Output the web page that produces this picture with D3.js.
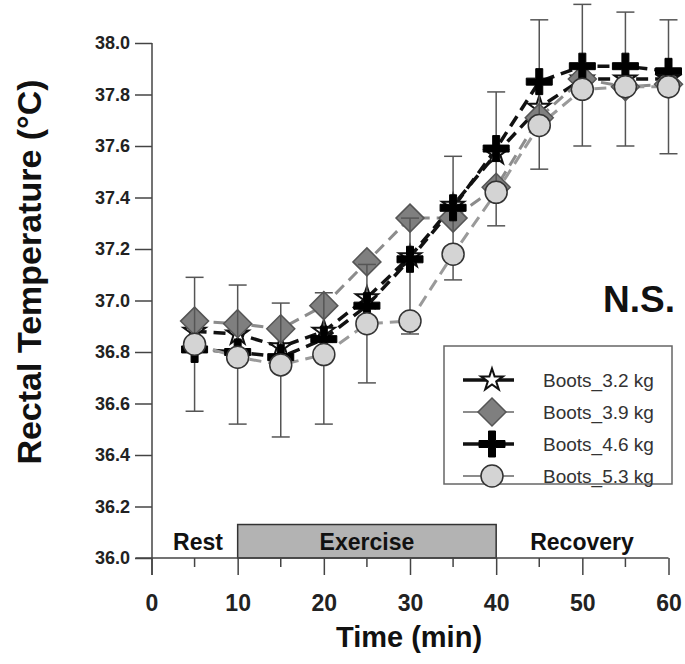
<!DOCTYPE html>
<html>
<head>
<meta charset="utf-8">
<script src="https://cdn.jsdelivr.net/npm/d3@7"></script>
<style>
body{margin:0;background:#fff;}
svg{display:block;font-family:"Liberation Sans",Arial,sans-serif;}
</style>
</head>
<body>
<svg id="chart" width="685" height="664"></svg>
<script>
const times = [5,10,15,20,25,30,35,40,45,50,55,60];
const boots32 = [36.88,36.87,36.82,36.88,37.01,37.17,37.37,37.57,37.75,37.86,37.86,37.86];
const boots39 = [36.92,36.91,36.89,36.98,37.15,37.32,37.32,37.44,37.71,37.86,37.83,37.84];
const boots46 = [36.81,36.80,36.78,36.85,36.98,37.16,37.36,37.59,37.85,37.91,37.91,37.89];
const boots53 = [36.83,36.78,36.75,36.79,36.91,36.92,37.18,37.42,37.68,37.82,37.83,37.83];
const errTop = [37.09,37.06,36.99,37.03,37.14,37.32,37.56,37.81,38.09,38.15,38.12,38.09];
const errBottom = [36.57,36.52,36.47,36.52,36.68,36.87,37.08,37.29,37.51,37.60,37.60,37.57];
const xTicks = [0,10,20,30,40,50,60];
const xMinorTicks = [5,15,25,35,45,55];
const yTicks = [36.0,36.2,36.4,36.6,36.8,37.0,37.2,37.4,37.6,37.8,38.0];
const seriesNames = ["Boots_3.2 kg","Boots_3.9 kg","Boots_4.6 kg","Boots_5.3 kg"];
const phases = [{label:"Rest",start:0,end:10,box:false},{label:"Exercise",start:10,end:40,box:true},{label:"Recovery",start:40,end:60,box:false}];
const phaseTop = 36.13;

const svg = d3.select("#chart");
const x = d3.scaleLinear().domain([0,60]).range([151.5,668.5]);
const y = d3.scaleLinear().domain([36,38]).range([558,43]);

// Phase box
phases.forEach(p => {
  if (p.box) {
    svg.append("rect").attr("x", x(p.start)).attr("y", y(phaseTop))
      .attr("width", x(p.end)-x(p.start)).attr("height", y(36)-y(phaseTop))
      .attr("fill","#b3b3b3").attr("stroke","#333").attr("stroke-width",1.5);
  }
});
phases.forEach(p => {
  let cx = (x(p.start)+x(p.end))/2;
  if (p.label==="Rest") cx = 198;
  if (p.label==="Recovery") cx = 582;
  svg.append("text").attr("x",cx).attr("y",550).attr("text-anchor","middle")
    .attr("font-size",23).attr("font-weight","bold").attr("fill","#111").text(p.label);
});

// Y axis
const yAxis = d3.axisLeft(y).tickValues(yTicks).tickFormat(d3.format(".1f")).tickSize(17).tickPadding(5);
const gy = svg.append("g").attr("transform","translate(152,0)").call(yAxis);
gy.select(".domain").attr("d","M0,43V575").attr("stroke","#444").attr("stroke-width",1.5);
gy.selectAll(".tick line").attr("stroke","#444").attr("stroke-width",1.5);
gy.selectAll(".tick text").attr("font-size",18).attr("font-weight","bold").attr("fill","#222")
  .attr("font-family","'Liberation Sans',Arial,sans-serif");

// X axis
const xAxis = d3.axisBottom(x).tickValues(xTicks).tickSize(17).tickPadding(20);
const gx = svg.append("g").attr("transform","translate(0,558)").call(xAxis);
gx.select(".domain").attr("d",`M${x(0)-16},0H${x(60)}`).attr("stroke","#444").attr("stroke-width",1.5);
gx.selectAll(".tick line").attr("stroke","#444").attr("stroke-width",1.5);
gx.selectAll(".tick text").attr("font-size",23).attr("font-weight","bold").attr("fill","#222")
  .attr("font-family","'Liberation Sans',Arial,sans-serif");
gx.selectAll(".minor").data(xMinorTicks).enter().append("line")
  .attr("x1",d=>x(d)).attr("x2",d=>x(d)).attr("y1",0).attr("y2",9)
  .attr("stroke","#444").attr("stroke-width",1.5);

// Axis titles
svg.append("text").attr("transform","translate(41,272) rotate(-90)").attr("text-anchor","middle")
  .attr("font-size",34).attr("font-weight","bold").attr("fill","#111").text("Rectal Temperature (°C)");
svg.append("text").attr("x",409).attr("y",647).attr("text-anchor","middle")
  .attr("font-size",29).attr("font-weight","bold").attr("fill","#111").text("Time (min)");

// N.S.
svg.append("text").attr("x",639).attr("y",312).attr("text-anchor","middle")
  .attr("font-size",37).attr("font-weight","bold").attr("fill","#111").text("N.S.");

// Lines
const line = d3.line().x((d,i)=>x(times[i])).y(d=>y(d));
const lineStyles = [
  {data:boots32, stroke:"#111", w:3.5, dash:"12,7"},
  {data:boots39, stroke:"#8c8c8c", w:3, dash:"12,7"},
  {data:boots46, stroke:"#111", w:3.5, dash:"12,7"},
  {data:boots53, stroke:"#9a9a9a", w:3, dash:"12,7"}
];
lineStyles.forEach(s => {
  svg.append("path").attr("d",line(s.data)).attr("fill","none").attr("stroke",s.stroke)
    .attr("stroke-width",s.w).attr("stroke-dasharray",s.dash);
});

// Marker generators
const starPath = d3.symbol().type(d3.symbolStar).size(150)();
const diamondPath = "M0,-14L14,0L0,14L-14,0Z";
const plusPath = "M-3.5,-13H3.5V-3.5H13V3.5H3.5V13H-3.5V3.5H-13V-3.5H-3.5Z";
function drawStar(g){ g.append("path").attr("d",starPath).attr("fill","#fff").attr("stroke","#111").attr("stroke-width",2); }
function drawDiamond(g){ g.append("path").attr("d",diamondPath).attr("fill","#7f7f7f").attr("stroke","#555").attr("stroke-width",1.5); }
function drawPlus(g){ g.append("path").attr("d",plusPath).attr("fill","#000").attr("stroke","#000").attr("stroke-width",1); }
function drawCircle(g){ g.append("circle").attr("r",11).attr("fill","#d4d4d4").attr("stroke","#333").attr("stroke-width",1.5); }

function markers(data, fn){
  data.forEach((v,i)=>{
    const g = svg.append("g").attr("transform",`translate(${x(times[i])},${y(v)})`);
    fn(g);
  });
}
markers(boots32, drawStar);
markers(boots39, drawDiamond);

// Error bars
const eb = svg.append("g").attr("stroke","#555").attr("stroke-width",1.5);
times.forEach((t,i)=>{
  eb.append("line").attr("x1",x(t)).attr("x2",x(t)).attr("y1",y(errTop[i])).attr("y2",y(errBottom[i]));
  eb.append("line").attr("x1",x(t)-9).attr("x2",x(t)+9).attr("y1",y(errTop[i])).attr("y2",y(errTop[i]));
  eb.append("line").attr("x1",x(t)-9).attr("x2",x(t)+9).attr("y1",y(errBottom[i])).attr("y2",y(errBottom[i]));
});

markers(boots46, drawPlus);
markers(boots53, drawCircle);

// Legend
const lg = svg.append("g");
lg.append("rect").attr("x",444).attr("y",346).attr("width",228).attr("height",138)
  .attr("fill","#fff").attr("stroke","#666").attr("stroke-width",1.5);
const legendItems = [
  {fn:drawStar, stroke:"#111", w:3.5},
  {fn:drawDiamond, stroke:"#8c8c8c", w:2},
  {fn:drawPlus, stroke:"#111", w:3.5},
  {fn:drawCircle, stroke:"#8c8c8c", w:2}
];
legendItems.forEach((it,i)=>{
  const cy = 380 + i*32;
  lg.append("line").attr("x1",463).attr("x2",514).attr("y1",cy).attr("y2",cy)
    .attr("stroke",it.stroke).attr("stroke-width",it.w);
  const g = lg.append("g").attr("transform",`translate(492,${cy})`);
  it.fn(g);
  lg.append("text").attr("x",543).attr("y",cy+6.5).attr("font-size",19).attr("fill","#333").text(seriesNames[i]);
});
</script>
</body>
</html>
